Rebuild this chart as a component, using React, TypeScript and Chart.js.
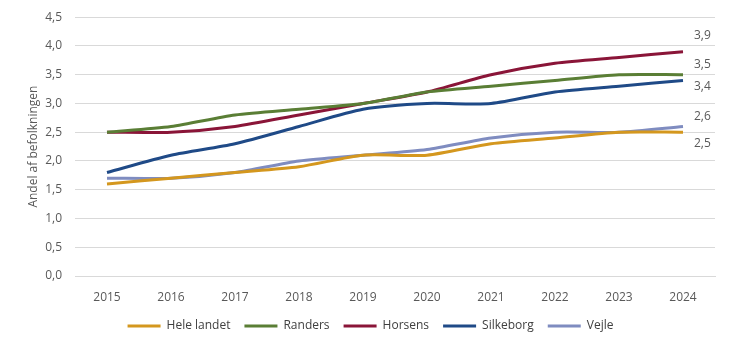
import React, { useEffect, useRef } from "react";
import { Chart, registerables } from "chart.js";

Chart.register(...registerables);

const years = ["2015", "2016", "2017", "2018", "2019", "2020", "2021", "2022", "2023", "2024"];
const heleLandet = [1.6, 1.7, 1.8, 1.9, 2.1, 2.1, 2.3, 2.4, 2.5, 2.5];
const randers = [2.5, 2.6, 2.8, 2.9, 3.0, 3.2, 3.3, 3.4, 3.5, 3.5];
const horsens = [2.5, 2.5, 2.6, 2.8, 3.0, 3.2, 3.5, 3.7, 3.8, 3.9];
const silkeborg = [1.8, 2.1, 2.3, 2.6, 2.9, 3.0, 3.0, 3.2, 3.3, 3.4];
const vejle = [1.7, 1.7, 1.8, 2.0, 2.1, 2.2, 2.4, 2.5, 2.5, 2.6];

const seriesNames = ["Hele landet", "Randers", "Horsens", "Silkeborg", "Vejle"];
const seriesColors = ["#D4971E", "#5A7E35", "#8A1538", "#1F4A87", "#7F8CC0"];
// vertical pixel offset of end label relative to its last point (style only)
const labelOffsets = [11, -10, -16, 6, -10];

const FONT = "'Open Sans', 'Liberation Sans', sans-serif";

const endLabels = {
  id: "endLabels",
  afterDatasetsDraw(chart: any) {
    const ctx = chart.ctx;
    ctx.save();
    ctx.font = `12px ${FONT}`;
    ctx.fillStyle = "#595959";
    ctx.textAlign = "left";
    ctx.textBaseline = "middle";
    chart.data.datasets.forEach((ds: any, i: number) => {
      const meta = chart.getDatasetMeta(i);
      const last = meta.data[meta.data.length - 1];
      const v = ds.data[ds.data.length - 1];
      const txt = v.toFixed(1).replace(".", ",");
      ctx.fillText(txt, last.x + 11, last.y + labelOffsets[i]);
    });
    ctx.restore();
  },
};

export default function App() {
  const ref = useRef<HTMLCanvasElement>(null);
  useEffect(() => {
    const all = [heleLandet, randers, horsens, silkeborg, vejle];
    const chart = new Chart(ref.current!, {
      type: "line",
      data: {
        labels: years,
        datasets: all.map((d, i) => ({
          label: seriesNames[i],
          data: d,
          borderColor: seriesColors[i],
          backgroundColor: seriesColors[i],
          borderWidth: 3,
          pointRadius: 0,
          tension: 0.25,
          fill: false,
        })),
      },
      options: {
        animation: false,
        responsive: false,
        maintainAspectRatio: false,
        layout: { padding: { top: 5, right: 19, left: 26, bottom: 8 } },
        plugins: {
          legend: {
            position: "bottom",
            labels: {
              boxWidth: 33,
              boxHeight: 3,
              padding: 14,
              color: "#404040",
              font: { family: FONT, size: 12 },
              generateLabels: (c: any) =>
                Chart.defaults.plugins.legend.labels
                  .generateLabels(c)
                  .map((l: any) => ({ ...l, lineWidth: 0 })),
            },
          },
          tooltip: { enabled: false },
        },
        scales: {
          x: {
            offset: true,
            grid: { display: false },
            border: { display: true, color: "#D9D9D9" },
            ticks: {
              color: "#595959",
              font: { family: FONT, size: 12 },
              padding: 6,
              maxRotation: 0,
            },
            afterFit: (s: any) => {
              s.height = 30;
            },
          },
          y: {
            min: 0,
            max: 4.5,
            grid: { color: "#D9D9D9", lineWidth: 1, drawTicks: false },
            border: { display: false },
            ticks: {
              stepSize: 0.5,
              color: "#595959",
              padding: 13,
              font: { family: FONT, size: 12 },
              callback: (v: any) => Number(v).toFixed(1).replace(".", ","),
            },
            title: {
              display: true,
              text: "Andel af befolkningen",
              color: "#595959",
              font: { family: FONT, size: 12 },
              padding: 0,
            },
            afterFit: (s: any) => {
              s.width = 49;
            },
          },
        },
      },
      plugins: [endLabels],
    });
    return () => chart.destroy();
  }, []);
  return (
    <div style={{ position: "absolute", left: 0, top: 0, width: 734, height: 350, overflow: "hidden", background: "#fff" }}>
      <canvas ref={ref} width={734} height={353} style={{ position: "absolute", left: 0, top: -3 }} />
    </div>
  );
}
